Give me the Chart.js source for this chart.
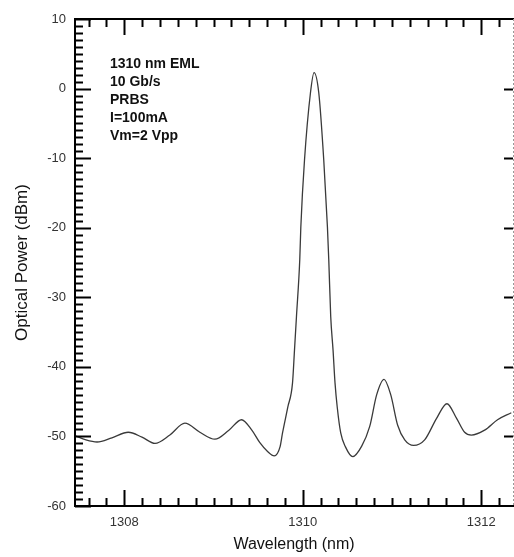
<!DOCTYPE html>
<html>
<head>
<meta charset="utf-8">
<script src="https://cdn.jsdelivr.net/npm/chart.js@4"></script>
<style>
  html, body { margin: 0; padding: 0; background: #fff; }
  #wrap { width: 514px; height: 557px; }
</style>
</head>
<body>
<div id="wrap"><canvas id="spectrum"></canvas></div>
<script>
// Spectrum data
var wavelength = [
  1307.448, 1307.571, 1307.695, 1307.862, 1308.045, 1308.198, 1308.344, 1308.511,
  1308.679, 1308.847, 1309.015, 1309.172, 1309.314, 1309.429, 1309.519, 1309.608,
  1309.680, 1309.745, 1309.773, 1309.832, 1309.885, 1309.907, 1309.929, 1309.966,
  1309.978, 1310.019, 1310.086, 1310.126, 1310.179, 1310.235, 1310.276, 1310.291,
  1310.313, 1310.339, 1310.361, 1310.386, 1310.425, 1310.478, 1310.560, 1310.660,
  1310.749, 1310.828, 1310.910, 1310.985, 1311.063, 1311.142, 1311.242, 1311.365,
  1311.499, 1311.615, 1311.723, 1311.813, 1311.888, 1312.037, 1312.182, 1312.336
];
var power = [
  -49.9, -50.5, -50.8, -50.2, -49.4, -50.1, -51.0, -49.8,
  -48.1, -49.4, -50.4, -49.1, -47.6, -49.1, -50.9, -52.2,
  -52.8, -51.5, -49.5, -45.8, -42.3, -37.6, -32.8, -24.6,
  -19.9, -10.3, -0.6, 2.3, -0.6, -10.3, -19.9, -24.6,
  -32.8, -37.6, -42.3, -45.8, -49.5, -51.5, -52.9, -51.4,
  -48.6, -44.0, -41.8, -44.0, -48.4, -50.5, -51.3, -50.5,
  -47.4, -45.3, -47.4, -49.4, -49.8, -49.1, -47.6, -46.6
];
var xTicks = [1308, 1310, 1312];
var yTicks = [-60, -50, -40, -30, -20, -10, 0, 10];
var notes = ['1310 nm EML', '10 Gb/s', 'PRBS', 'I=100mA', 'Vm=2 Vpp'];

var points = wavelength.map(function (w, i) { return {x: w, y: power[i]}; });

// frame + inward ticks (major and minor) and the text box
var framePlugin = {
  id: 'frame',
  afterDraw: function (chart) {
    var ctx = chart.ctx, a = chart.chartArea;
    var xs = chart.scales.x, ys = chart.scales.y;
    ctx.save();
    ctx.strokeStyle = '#000';
    ctx.lineWidth = 2;
    ctx.beginPath();
    ctx.moveTo(a.right + 1, a.top); ctx.lineTo(a.left, a.top);
    ctx.lineTo(a.left, a.bottom); ctx.lineTo(a.right + 1, a.bottom);
    ctx.stroke();

    ctx.beginPath();
    var v, px, major;
    for (v = 1307.6; v <= 1312.35; v += 0.2) {
      px = Math.round(xs.getPixelForValue(v)) + 0.5;
      major = Math.abs(v / 2 - Math.round(v / 2)) < 0.01;
      var len = major ? 16 : 8;
      ctx.moveTo(px, a.bottom); ctx.lineTo(px, a.bottom - len);
      ctx.moveTo(px, a.top); ctx.lineTo(px, a.top + len);
    }
    for (v = -60; v <= 10; v += 1) {
      px = Math.round(ys.getPixelForValue(v)) + 0.5;
      major = v % 10 === 0;
      ctx.moveTo(a.left, px); ctx.lineTo(a.left + (major ? 16 : 8), px);
      if (major && v > -60 && v < 10) {
        ctx.moveTo(a.right, px); ctx.lineTo(a.right - 9, px);
      }
    }
    ctx.stroke();

    // right edge of the scan is dotted
    ctx.strokeStyle = '#999';
    ctx.lineWidth = 1;
    ctx.setLineDash([2, 2]);
    ctx.beginPath();
    ctx.moveTo(a.right + 0.5, a.top); ctx.lineTo(a.right + 0.5, a.bottom);
    ctx.stroke();
    ctx.setLineDash([]);

    ctx.fillStyle = '#111';
    ctx.font = 'bold 14px "Liberation Sans", Arial, sans-serif';
    ctx.textAlign = 'left';
    ctx.textBaseline = 'alphabetic';
    notes.forEach(function (t, i) {
      ctx.fillText(t, 110, 68 + i * 18);
    });
    ctx.restore();
  }
};

var ctx1 = document.getElementById('spectrum').getContext('2d');

var spectrumChart = new Chart(ctx1, {
  type: 'line',
  data: {
    datasets: [{
      label: 'Spectrum',
      data: points,
      borderColor: '#3a3a3a',
      borderWidth: 1.3,
      pointRadius: 0,
      fill: false,
      cubicInterpolationMode: 'monotone'
    }]
  },
  options: {
    responsive: true,
    maintainAspectRatio: false,
    animation: false,
    layout: { padding: { top: 19, right: 1, left: 0, bottom: 0 } },
    plugins: { legend: { display: false }, tooltip: { enabled: false } },
    scales: {
      x: {
        type: 'linear',
        min: 1307.448,
        max: 1312.355,
        grid: { display: false, drawTicks: false },
        border: { display: false },
        afterBuildTicks: function (s) { s.ticks = xTicks.map(function (t) { return {value: t}; }); },
        afterFit: function (s) { s.height = 51; },
        ticks: {
          padding: 9,
          color: '#333',
          font: { family: '"Liberation Sans", Arial, sans-serif', size: 13 },
          callback: function (v) { return String(v); }
        },
        title: {
          display: true,
          text: 'Wavelength (nm)',
          color: '#111',
          padding: { top: 0, bottom: 3 },
          font: { family: '"Liberation Sans", Arial, sans-serif', size: 16 }
        }
      },
      y: {
        min: -60,
        max: 10,
        grid: { display: false, drawTicks: false },
        border: { display: false },
        afterBuildTicks: function (s) { s.ticks = yTicks.map(function (t) { return {value: t}; }); },
        afterFit: function (s) { s.width = 75; },
        ticks: {
          padding: 9,
          color: '#333',
          font: { family: '"Liberation Sans", Arial, sans-serif', size: 13 }
        },
        title: {
          display: true,
          text: 'Optical Power (dBm)',
          color: '#111',
          padding: { top: 12, bottom: 0 },
          font: { family: '"Liberation Sans", Arial, sans-serif', size: 17 }
        }
      }
    }
  },
  plugins: [framePlugin]
});
</script>
</body>
</html>
